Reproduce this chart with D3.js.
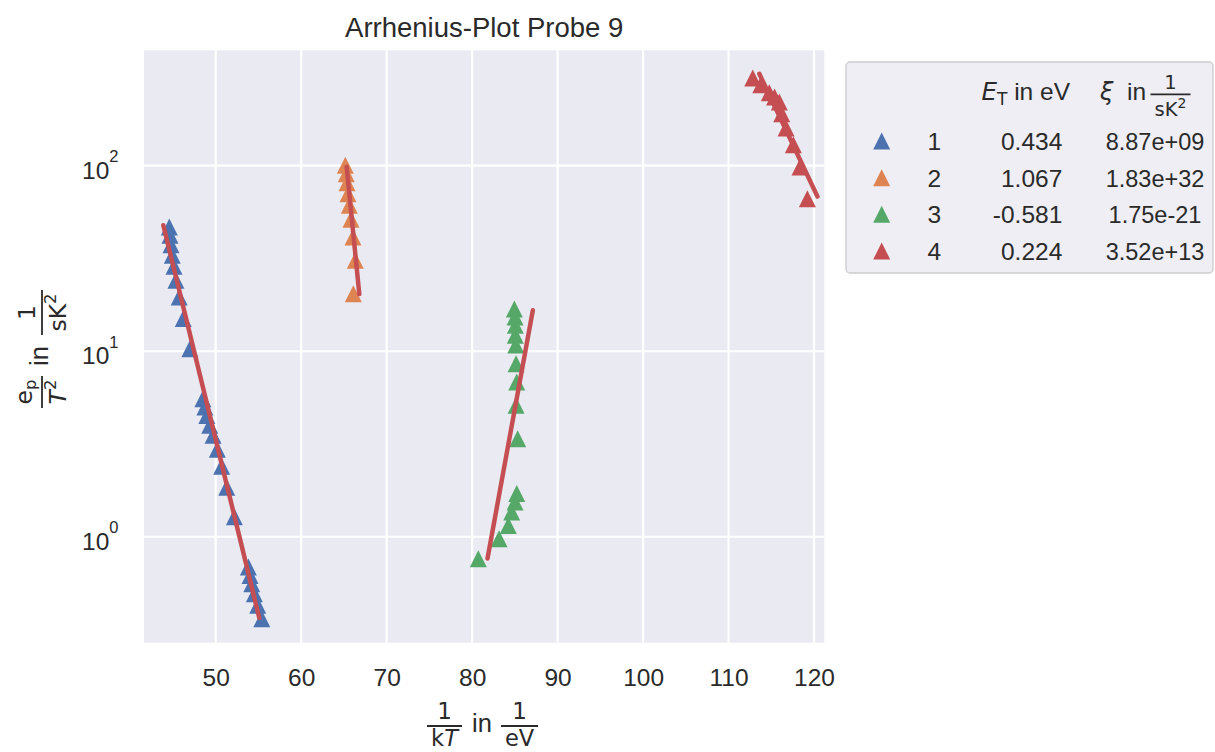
<!DOCTYPE html>
<html>
<head>
<meta charset="utf-8">
<script src="https://cdn.jsdelivr.net/npm/d3@7"></script>
<style>
  body { margin: 0; background: #ffffff; }
  svg text { font-family: "Liberation Sans", Arial, sans-serif; fill: #2a2a2a; }
  .math { font-family: "DejaVu Sans", sans-serif; }
</style>
</head>
<body>
<svg id="chart" width="1215" height="752"></svg>
<script>
// ---- data: 1/kT in 1/eV and e_p/T^2 in 1/(sK^2) for each trap level ----
const seriesNames = ["1", "2", "3", "4"];
const seriesColors = ["#4C72B0", "#DD8452", "#55A868", "#C44E52"];
const fitColor = "#C44E52";

const invKT1 = [44.57, 44.65, 44.77, 44.92, 45.12, 45.35, 45.73, 46.20, 46.98, 48.50, 48.73, 48.96,
                49.30, 49.69, 50.19, 50.70, 51.29, 52.18, 53.82, 54.02, 54.22, 54.52, 54.92, 55.39];
const rate1   = [46.7, 42.2, 37.5, 32.9, 28.7, 24.1, 19.6, 15.0, 10.3, 5.55, 5.0, 4.51,
                 3.99, 3.52, 2.96, 2.40, 1.85, 1.28, 0.687, 0.619, 0.558, 0.493, 0.427, 0.361];

const invKT2 = [65.16, 65.28, 65.36, 65.48, 65.63, 65.83, 66.06, 66.33, 66.10];
const rate2   = [100.5, 90.6, 81.0, 70.7, 61.2, 51.4, 41.3, 30.9, 20.4];

const invKT3 = [84.94, 85.02, 85.05, 85.05, 85.10, 85.14, 85.22, 85.14, 85.33,
                85.22, 85.02, 84.63, 84.23, 83.15, 80.72];
const rate3   = [16.9, 15.3, 13.8, 12.2, 10.8, 8.56, 6.82, 5.11, 3.38,
                 1.71, 1.54, 1.36, 1.15, 0.976, 0.761];

const invKT4 = [112.83, 113.77, 114.77, 115.38, 115.94, 116.22, 116.73, 117.58, 118.36, 119.22];
const rate4   = [297.0, 273.4, 247.5, 234.6, 220.5, 190.7, 159.7, 129.8, 98.4, 66.4];

// Arrhenius fit results: e_p/T^2 = xi * exp(-E_T / kT)
const trapEnergy = [0.434, 1.067, -0.581, 0.224];          // E_T in eV
const trapPrefactor = [8.87e9, 1.83e32, 1.75e-21, 3.52e13]; // xi in 1/(sK^2)
const energyLabels = ["0.434", "1.067", "-0.581", "0.224"];
const prefactorLabels = ["8.87e+09", "1.83e+32", "1.75e-21", "3.52e+13"];
// 1/kT interval over which each fit line is drawn
const fitStart = [43.87, 65.32, 81.8, 113.6];
const fitEnd   = [55.10, 66.80, 87.1, 120.4];

const xTicks = [50, 60, 70, 80, 90, 100, 110, 120];
const yTicks = [1, 10, 100];
const yTickExponents = ["0", "1", "2"];

const xSeries = [invKT1, invKT2, invKT3, invKT4];
const ySeries = [rate1, rate2, rate3, rate4];

// ---- layout ----
const svg = d3.select("#chart");
const plot = { left: 144, right: 824.3, top: 50.3, bottom: 642.7 };
const ink = "#2a2a2a";

const x = d3.scaleLinear().domain([41.61, 121.2]).range([plot.left, plot.right]);
const y = d3.scaleLog().domain([Math.pow(10, -0.571), Math.pow(10, 2.622)]).range([plot.bottom, plot.top]);

// axes background
svg.append("rect")
  .attr("x", plot.left).attr("y", plot.top)
  .attr("width", plot.right - plot.left).attr("height", plot.bottom - plot.top)
  .attr("fill", "#EAEAF2");

// grid lines
const grid = svg.append("g");
grid.selectAll("line.vx").data(xTicks).join("line")
  .attr("x1", d => x(d)).attr("x2", d => x(d))
  .attr("y1", plot.top).attr("y2", plot.bottom)
  .attr("stroke", "#ffffff").attr("stroke-width", 2.2);
grid.selectAll("line.hy").data(yTicks).join("line")
  .attr("y1", d => y(d)).attr("y2", d => y(d))
  .attr("x1", plot.left).attr("x2", plot.right)
  .attr("stroke", "#ffffff").attr("stroke-width", 2.2);

// x axis tick labels
const xAxis = d3.axisBottom(x).tickValues(xTicks).tickSize(0).tickPadding(25.5).tickFormat(d3.format("d"));
const gx = svg.append("g").attr("transform", `translate(0,${plot.bottom})`).call(xAxis);
gx.select(".domain").remove();
gx.selectAll("text").attr("font-size", 24.5).attr("font-family", "Liberation Sans, Arial, sans-serif").attr("fill", ink);

// y axis tick labels as powers of ten
const yAxis = d3.axisLeft(y).tickValues(yTicks).tickSize(0).tickPadding(25.5).tickFormat(() => "");
const gy = svg.append("g").attr("transform", `translate(${plot.left},0)`).call(yAxis);
gy.select(".domain").remove();
gy.selectAll(".tick text").each(function(d, i) {
  const t = d3.select(this).attr("dy", null).attr("y", 12.6)
    .attr("font-family", "Liberation Sans, Arial, sans-serif").attr("fill", ink);
  t.append("tspan").attr("font-size", 24.5).text("10");
  t.append("tspan").attr("font-size", 16.5).attr("dy", -16.6).text(yTickExponents[i]);
});

// triangle marker (width = height, centred on the data point)
const triSize = 17;
const triPath = `M0,${-triSize / 2}L${triSize / 2},${triSize / 2}L${-triSize / 2},${triSize / 2}Z`;

const marks = svg.append("g");
xSeries.forEach((xs, s) => {
  marks.append("g").selectAll("path").data(xs.map((v, i) => [v, ySeries[s][i]])).join("path")
    .attr("d", triPath)
    .attr("transform", d => `translate(${x(d[0])},${y(d[1])})`)
    .attr("fill", seriesColors[s]);
});

// fit lines
const line = d3.line().x(d => x(d[0])).y(d => y(d[1]));
const fits = svg.append("g");
trapEnergy.forEach((E, s) => {
  const pts = [fitStart[s], fitEnd[s]].map(v => [v, trapPrefactor[s] * Math.exp(-E * v)]);
  fits.append("path").attr("d", line(pts))
    .attr("fill", "none").attr("stroke", fitColor)
    .attr("stroke-width", 4.5).attr("stroke-linecap", "round");
});

// title
svg.append("text").attr("x", (plot.left + plot.right) / 2).attr("y", 37)
  .attr("text-anchor", "middle").attr("font-size", 27.5).text("Arrhenius-Plot Probe 9");

// helper: stacked fraction
function fraction(g, cx, barY, barW, numFn, denFn, numDy, denDy) {
  g.append("line").attr("x1", cx - barW / 2).attr("x2", cx + barW / 2)
    .attr("y1", barY).attr("y2", barY).attr("stroke", ink).attr("stroke-width", 1.8);
  const n = g.append("text").attr("x", cx).attr("y", barY + numDy).attr("text-anchor", "middle");
  numFn(n);
  const d = g.append("text").attr("x", cx).attr("y", barY + denDy).attr("text-anchor", "middle");
  denFn(d);
}

// x axis label: 1/(kT) in 1/eV
const xl = svg.append("g");
fraction(xl, 444.5, 726, 35,
  t => t.attr("class", "math").attr("font-size", 23).text("1"),
  t => { t.attr("class", "math").attr("font-size", 22.5);
         t.append("tspan").text("k");
         t.append("tspan").attr("font-style", "italic").text("T"); },
  -7, 20);
xl.append("text").attr("x", 482).attr("y", 732).attr("text-anchor", "middle").attr("font-size", 25.5).text("in");
fraction(xl, 519.5, 726, 37,
  t => t.attr("class", "math").attr("font-size", 23).text("1"),
  t => t.attr("class", "math").attr("font-size", 22.5).text("eV"),
  -7, 20);

// y axis label: e_p/T^2 in 1/(sK^2)
const yl = svg.append("g").attr("transform", "translate(42,350) rotate(-90)");
fraction(yl, -42, 0, 32,
  t => { t.attr("class", "math").attr("font-size", 23.5);
         t.append("tspan").text("e");
         t.append("tspan").attr("font-size", 16.5).attr("dy", 4).text("p"); },
  t => { t.attr("class", "math").attr("font-size", 23.5);
         t.append("tspan").attr("font-style", "italic").text("T");
         t.append("tspan").attr("font-size", 16.5).attr("dy", -10).text("2"); },
  -10, 24);
yl.append("text").attr("x", -6).attr("y", 6).attr("text-anchor", "middle").attr("font-size", 25.5).text("in");
fraction(yl, 37.5, 0, 45,
  t => t.attr("class", "math").attr("font-size", 23.5).text("1"),
  t => { t.attr("class", "math").attr("font-size", 23.5);
         t.append("tspan").text("sK");
         t.append("tspan").attr("font-size", 16.5).attr("dy", -10).text("2"); },
  -7, 24);

// legend
const lg = svg.append("g");
lg.append("rect").attr("x", 846).attr("y", 62).attr("width", 367).attr("height", 211)
  .attr("rx", 4).attr("fill", "#EEEEF4").attr("stroke", "#CCCCCC").attr("stroke-width", 1.3);

// header: E_T in eV
const h1 = lg.append("text").attr("x", 1070).attr("y", 100).attr("text-anchor", "end").attr("font-size", 24.5);
h1.append("tspan").attr("class", "math").attr("font-style", "italic").text("E");
h1.append("tspan").attr("class", "math").attr("font-size", 17).attr("dy", 5).text("T");
h1.append("tspan").attr("dy", -5).text(" in eV");

// header: xi in 1/(sK^2)
lg.append("text").attr("class", "math").attr("x", 1100).attr("y", 100).attr("font-style", "italic").attr("font-size", 24).text("ξ");
lg.append("text").attr("x", 1127).attr("y", 100).attr("font-size", 24.5).text("in");
fraction(lg, 1170.5, 94.3, 40,
  t => t.attr("class", "math").attr("font-size", 19.5).text("1"),
  t => { t.attr("class", "math").attr("font-size", 19.5);
         t.append("tspan").text("sK");
         t.append("tspan").attr("font-size", 14).attr("dy", -8).text("2"); },
  -5, 22);

const rowBase = [150, 186.7, 223.3, 260];
seriesNames.forEach((name, i) => {
  lg.append("path").attr("d", triPath)
    .attr("transform", `translate(881.7,${rowBase[i] - 9})`).attr("fill", seriesColors[i]);
  lg.append("text").attr("x", 934.3).attr("y", rowBase[i]).attr("text-anchor", "middle").attr("font-size", 24.5).text(name);
  lg.append("text").attr("x", 1062.3).attr("y", rowBase[i]).attr("text-anchor", "end").attr("font-size", 24.5).text(energyLabels[i]);
  lg.append("text").attr("x", 1155).attr("y", rowBase[i]).attr("text-anchor", "middle").attr("font-size", 23.5).text(prefactorLabels[i]);
});
</script>
</body>
</html>
